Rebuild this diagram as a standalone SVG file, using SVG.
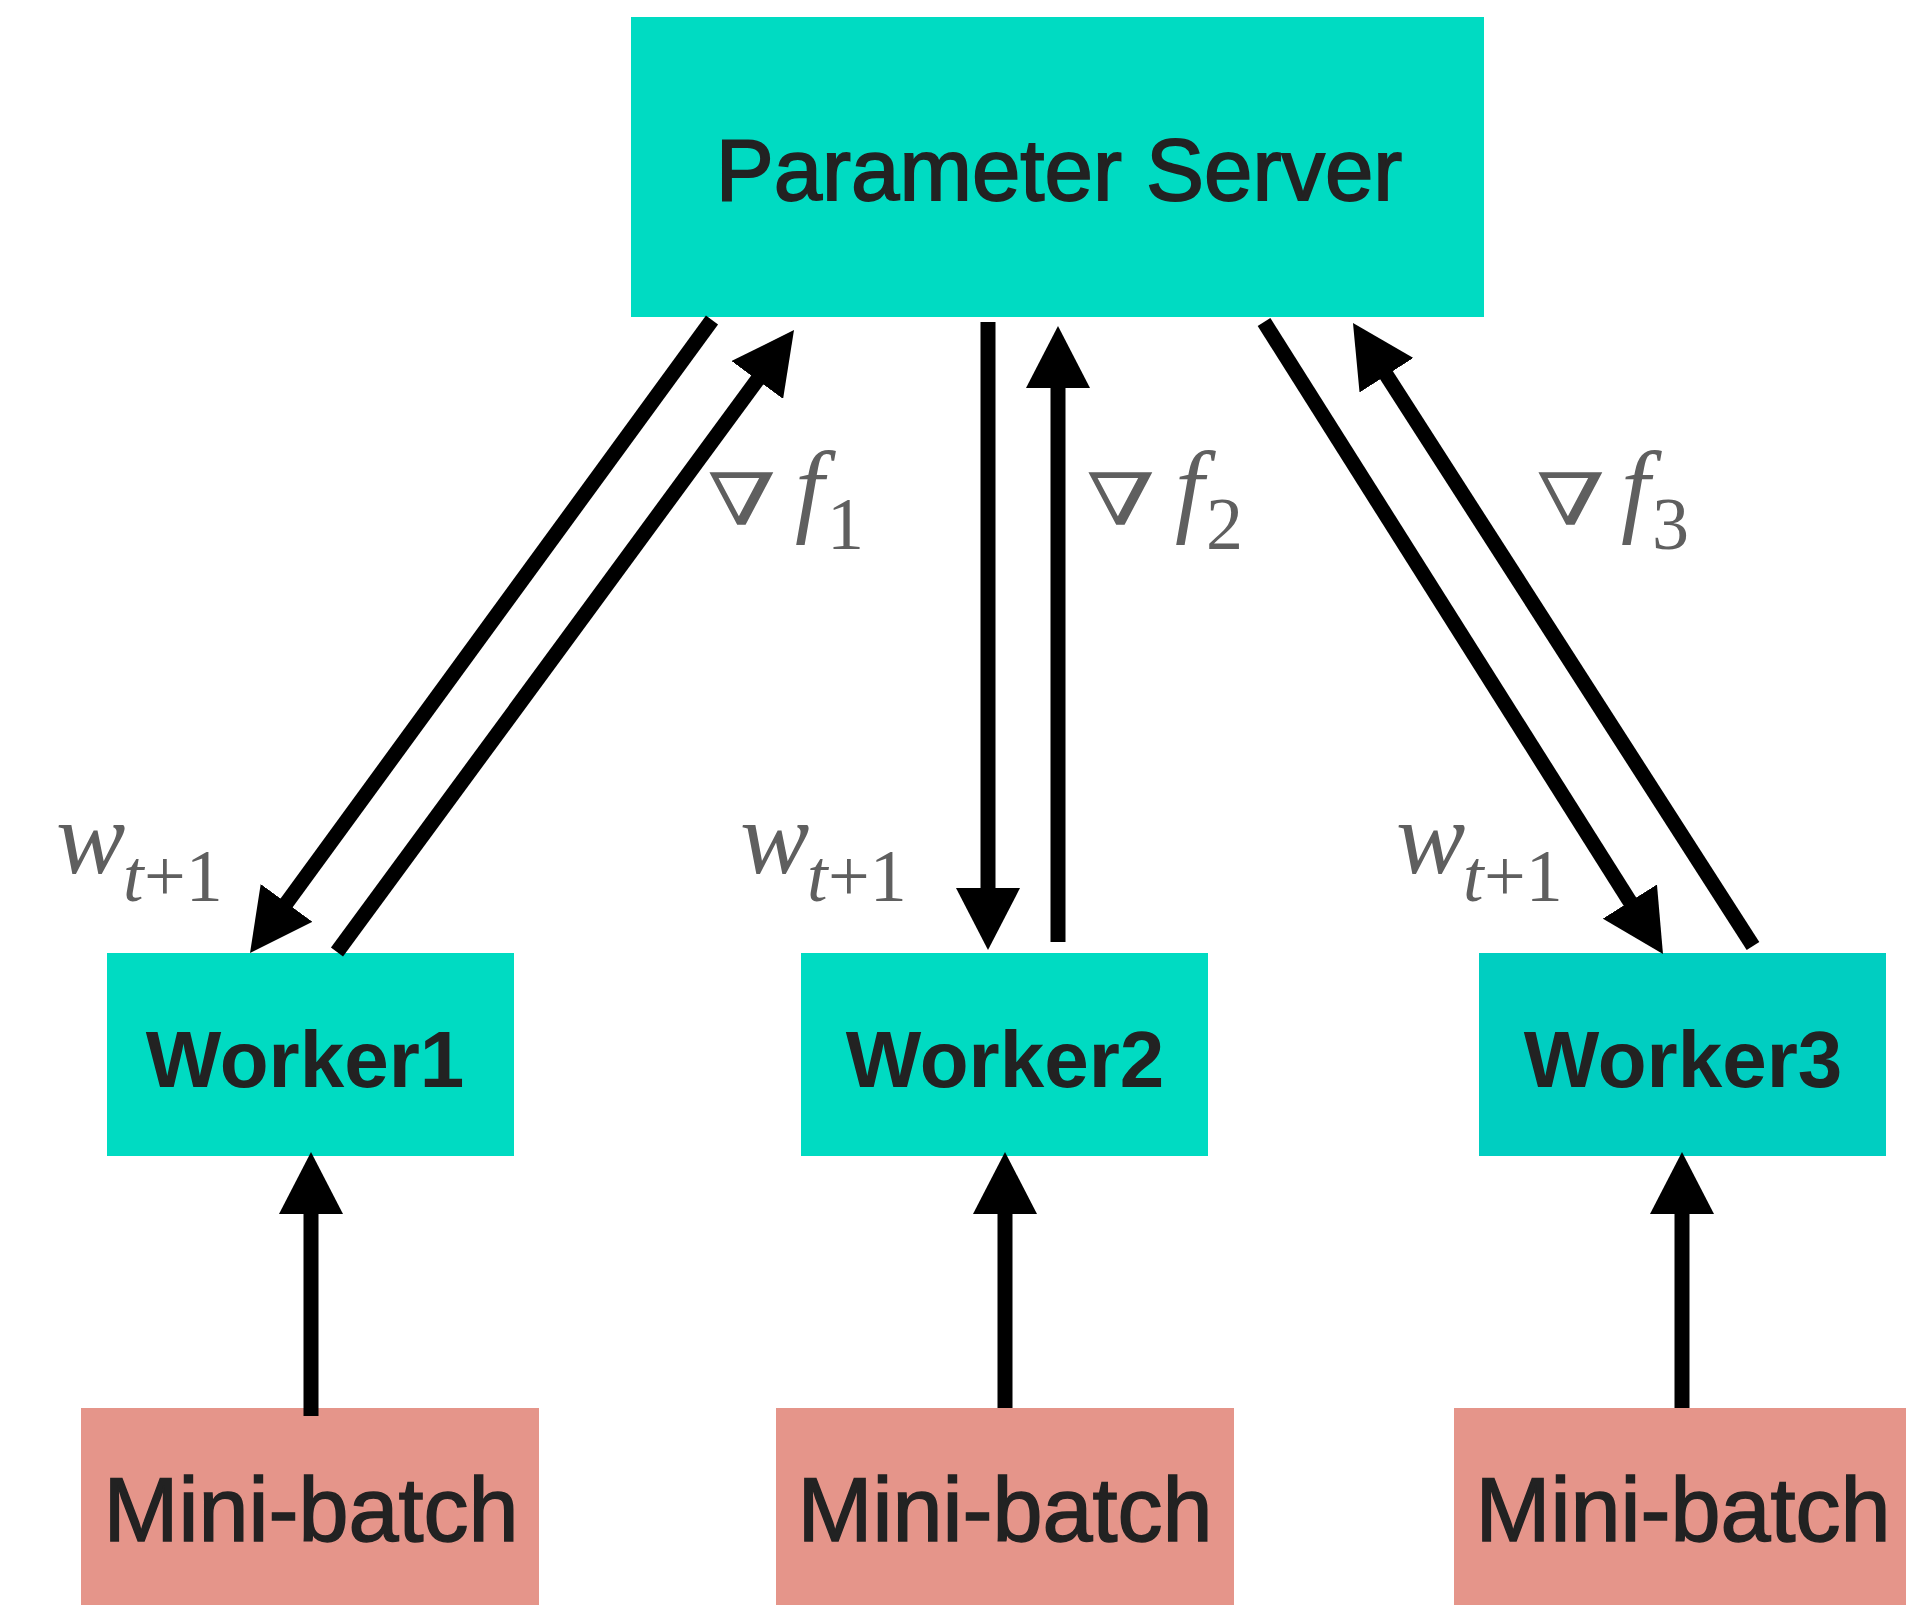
<svg xmlns="http://www.w3.org/2000/svg" width="1906" height="1605" viewBox="0 0 1906 1605">
  <style>
    .ps { fill: #00DBC2; }
    .worker { fill: #00DBC2; }
    .worker3 { fill: #00CEC1; }
    .batch { fill: #E5958A; }
    .title { font-family: "Liberation Sans", Arial, sans-serif; font-size: 87px; fill: #222; stroke: #222; stroke-width: 1.8; text-anchor: middle; }
    .wlabel { font-family: "Liberation Sans", Arial, sans-serif; font-size: 80px; font-weight: bold; fill: #222; text-anchor: middle; }
    .blabel { font-family: "Liberation Sans", Arial, sans-serif; font-size: 90px; fill: #222; stroke: #222; stroke-width: 1.5; text-anchor: middle; }
    .math { font-family: "Liberation Serif", "Times New Roman", serif; font-size: 104px; fill: #5f5f5f; }
    .it { font-style: italic; }
    .sub { font-size: 74px; }
    .nabla { font-family: "DejaVu Serif", serif; font-size: 72px; fill: #5f5f5f; }
    .edge { stroke: #000; stroke-width: 15; fill: none; marker-end: url(#head); }
  </style>
  <defs>
    <marker id="head" markerUnits="userSpaceOnUse" markerWidth="62" markerHeight="64" viewBox="0 0 62 64" refX="12" refY="32" orient="auto">
      <path d="M0,0 L62,32 L0,64 z" fill="#000"/>
    </marker>
  </defs>

  <!-- nodes -->
  <g id="parameter-server">
    <rect class="ps" x="631" y="17" width="853" height="300"/>
    <text class="title" x="1059" y="200">Parameter Server</text>
  </g>
  <g id="worker1">
    <rect class="worker" x="107" y="953" width="407" height="203"/>
    <text class="wlabel" x="305" y="1087">Worker1</text>
  </g>
  <g id="worker2">
    <rect class="worker" x="801" y="953" width="407" height="203"/>
    <text class="wlabel" x="1005" y="1087">Worker2</text>
  </g>
  <g id="worker3">
    <rect class="worker3" x="1479" y="953" width="407" height="203"/>
    <text class="wlabel" x="1683" y="1087">Worker3</text>
  </g>
  <g id="minibatch1">
    <rect class="batch" x="81" y="1408" width="458" height="197"/>
    <text class="blabel" x="311" y="1541">Mini-batch</text>
  </g>
  <g id="minibatch2">
    <rect class="batch" x="776" y="1408" width="458" height="197"/>
    <text class="blabel" x="1005" y="1541">Mini-batch</text>
  </g>
  <g id="minibatch3">
    <rect class="batch" x="1454" y="1408" width="458" height="197"/>
    <text class="blabel" x="1683" y="1541">Mini-batch</text>
  </g>

  <!-- connectors -->
  <g id="connectors">
    <line class="edge" x1="712" y1="320" x2="279.5" y2="912.6"/>
    <line class="edge" x1="337" y1="952" x2="764.4" y2="370.3"/>
    <line class="edge" x1="988" y1="322" x2="988" y2="900"/>
    <line class="edge" x1="1058" y1="942" x2="1058" y2="376"/>
    <line class="edge" x1="1264" y1="322" x2="1636.3" y2="911.7"/>
    <line class="edge" x1="1753" y1="946" x2="1380" y2="365.1"/>
    <line class="edge" x1="311" y1="1416" x2="311" y2="1202"/>
    <line class="edge" x1="1005" y1="1408" x2="1005" y2="1202"/>
    <line class="edge" x1="1682" y1="1408" x2="1682" y2="1202"/>
  </g>

  <!-- edge labels: gradients going up, weights going down -->
  <g id="labels">
    <text class="nabla" transform="translate(707,525) scale(1.38,1)">∇</text>
    <text class="math" y="523"><tspan class="it" x="795">f</tspan><tspan class="sub" x="827" y="549">1</tspan></text>
    <text class="nabla" transform="translate(1086,525) scale(1.38,1)">∇</text>
    <text class="math" y="523"><tspan class="it" x="1175">f</tspan><tspan class="sub" x="1206" y="549">2</tspan></text>
    <text class="nabla" transform="translate(1536,525) scale(1.38,1)">∇</text>
    <text class="math" y="523"><tspan class="it" x="1621">f</tspan><tspan class="sub" x="1652" y="549">3</tspan></text>

    <text class="math" y="873"><tspan class="it" x="56">w</tspan><tspan class="sub it" x="123" y="901">t</tspan><tspan class="sub" x="144" y="901">+1</tspan></text>
    <text class="math" y="873"><tspan class="it" x="740">w</tspan><tspan class="sub it" x="807" y="901">t</tspan><tspan class="sub" x="828" y="901">+1</tspan></text>
    <text class="math" y="873"><tspan class="it" x="1396">w</tspan><tspan class="sub it" x="1463" y="901">t</tspan><tspan class="sub" x="1484" y="901">+1</tspan></text>
  </g>
</svg>
